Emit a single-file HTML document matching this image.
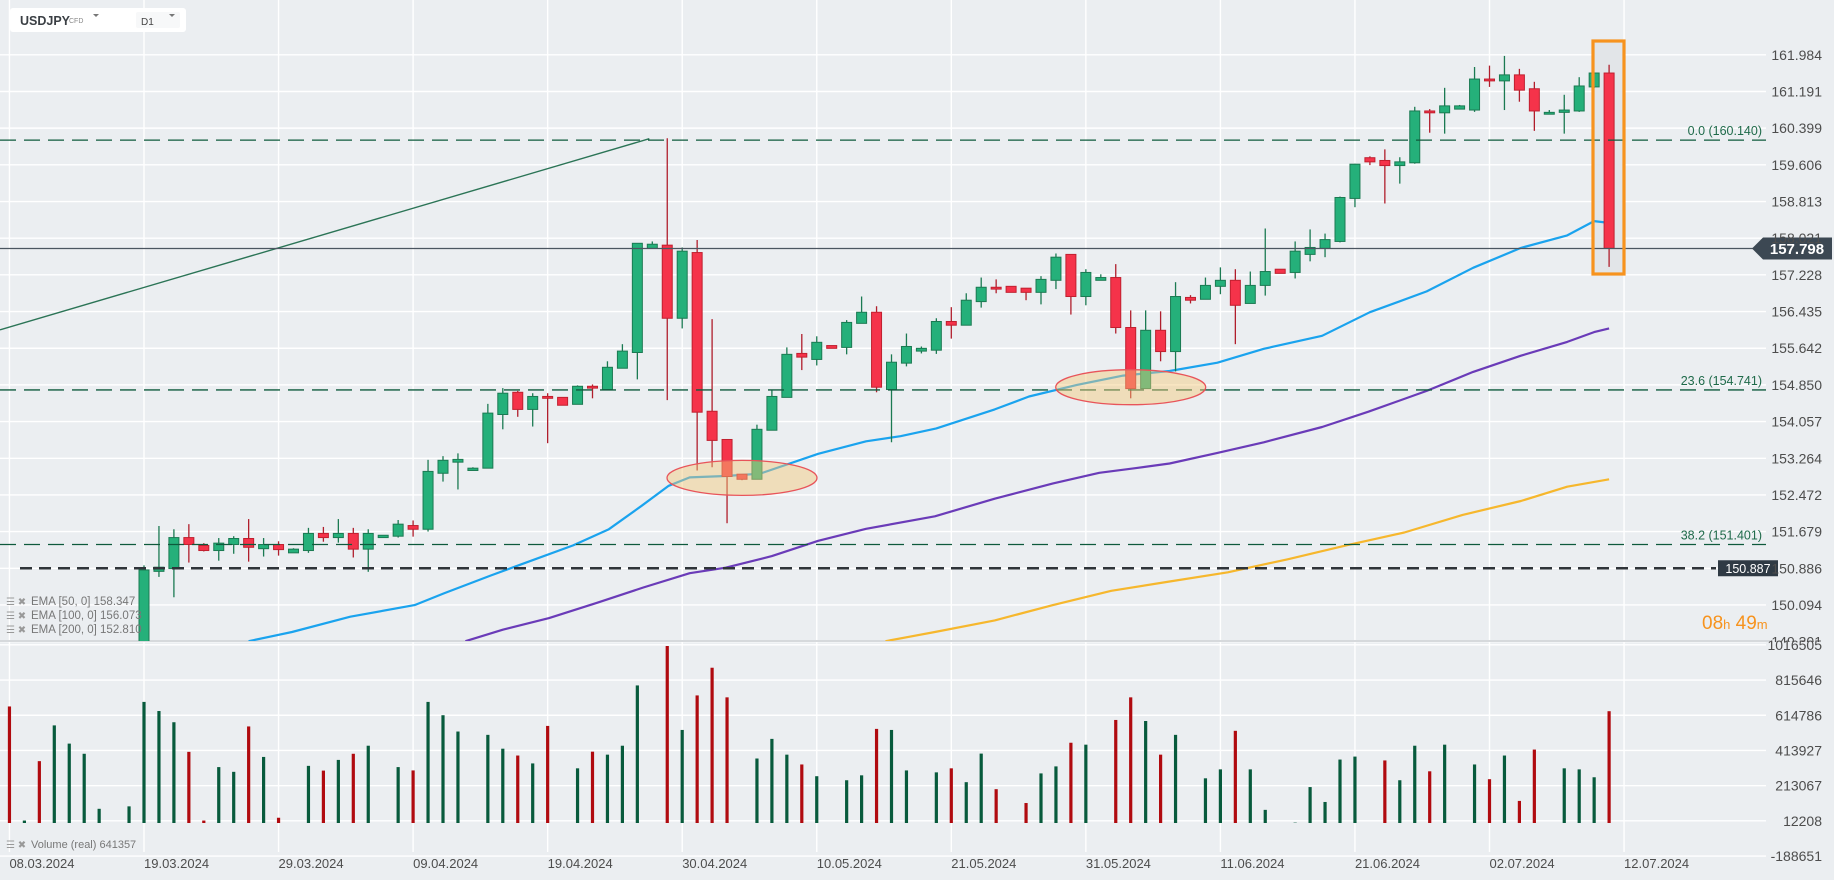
<!DOCTYPE html>
<html><head><meta charset="utf-8">
<style>
html,body{margin:0;padding:0;background:#ebeef1;}
svg{display:block;font-family:"Liberation Sans",sans-serif;}
</style></head>
<body>
<svg id="chart" width="1834" height="880" viewBox="0 0 1834 880" xmlns="http://www.w3.org/2000/svg">
<rect x="0" y="0" width="1834" height="880" fill="#ebeef1"/>
<defs><clipPath id="pclip"><rect x="0" y="0" width="1770" height="641"/></clipPath>
<clipPath id="lclip"><rect x="0" y="0" width="1834" height="642"/></clipPath></defs>
<g id="grid"></g>
<g id="vol"></g>
<g id="overlays" clip-path="url(#pclip)"></g>
<g id="candles" clip-path="url(#pclip)"></g>
<g id="annot"></g>
<g id="axes"></g>
<g id="paxes" clip-path="url(#lclip)"></g>
<!-- header -->
<g>
<rect x="10" y="8" width="176" height="24" rx="3" fill="#ffffff"/>
<text x="20" y="25" font-size="12.5" font-weight="bold" fill="#3a3f44">USDJPY</text>
<text x="69" y="23" font-size="7" fill="#888">CFD</text>
<path d="M93 14 L99 14 L96 17 Z" fill="#777"/>
</g>
<g>
<rect x="136" y="12" width="44" height="16" rx="2" fill="#f7f8f9"/>
<text x="141" y="25" font-size="10" fill="#444">D1</text>
<path d="M169 14 L175 14 L172 17 Z" fill="#777"/>
</g>
<!-- legend -->
<g font-size="11.5" fill="#777">
<text x="6" y="605" fill="#999" font-size="10">☰ ✖</text><text x="31" y="605">EMA  [50,  0] 158.347</text>
<text x="6" y="619" fill="#999" font-size="10">☰ ✖</text><text x="31" y="619">EMA  [100,  0] 156.073</text>
<text x="6" y="633" fill="#999" font-size="10">☰ ✖</text><text x="31" y="633">EMA  [200,  0] 152.810</text>
</g>
<g font-size="11" fill="#777">
<text x="6" y="848" fill="#999" font-size="10">☰ ✖</text><text x="31" y="848">Volume  (real)  641357</text>
</g>
<g fill="#f7931e">
<text x="1702" y="629" font-size="19">08<tspan font-size="13">h</tspan> 49<tspan font-size="13">m</tspan></text>
</g>
</svg>
<script>
const priceTicks=[161.984,161.191,160.399,159.606,158.813,158.021,157.228,156.435,155.642,154.850,154.057,153.264,152.472,151.679,150.886,150.094,149.301];
const volTicks=[1016505,815646,614786,413927,213067,12208,-188651];
const dateLabels=["08.03.2024","19.03.2024","29.03.2024","09.04.2024","19.04.2024","30.04.2024","10.05.2024","21.05.2024","31.05.2024","11.06.2024","21.06.2024","02.07.2024","12.07.2024"];
const dateIdx=[-9,0,9,18,27,36,45,54,63,72,81,90,99];
const opens=[149.10,150.82,150.88,151.55,151.38,151.27,151.40,151.53,151.31,151.40,151.22,151.27,151.64,151.55,151.64,151.30,151.55,151.58,151.81,151.73,152.94,153.18,153.00,153.05,154.21,154.69,154.32,154.60,154.58,154.43,154.82,154.75,155.21,155.55,157.80,157.87,156.29,157.71,154.28,153.67,152.92,152.81,153.87,154.58,155.53,155.40,155.70,155.66,156.18,156.42,154.75,155.32,155.58,155.60,156.22,156.14,156.65,156.96,156.98,156.94,156.85,157.11,157.67,156.76,157.11,157.17,156.09,154.77,156.03,155.57,156.74,156.70,156.98,157.11,156.61,157.00,157.35,157.28,157.67,157.80,157.95,158.88,159.76,159.70,159.59,159.65,160.77,160.73,160.81,160.79,161.46,161.42,161.55,161.25,160.70,160.74,160.77,161.29,161.59];
const highs=[150.95,151.80,151.73,151.84,151.43,151.54,151.58,151.95,151.54,151.47,151.32,151.76,151.78,151.95,151.76,151.73,151.60,151.93,151.92,153.23,153.31,153.37,153.07,154.44,154.78,154.72,154.67,154.67,154.58,154.84,154.86,155.36,155.73,157.91,157.95,160.18,157.82,157.98,156.27,153.67,152.92,153.99,154.75,155.66,155.95,155.90,155.70,156.25,156.76,156.55,155.51,155.96,155.68,156.29,156.53,156.83,157.17,157.13,156.98,156.94,157.20,157.69,157.67,157.35,157.24,157.46,156.46,156.46,156.44,157.07,156.79,157.17,157.39,157.35,157.30,158.23,157.35,157.95,158.21,158.12,158.92,159.63,159.79,159.94,159.77,160.86,160.81,161.27,160.90,161.72,161.75,161.96,161.68,161.40,160.79,161.12,161.50,161.59,161.77];
const lows=[149.05,150.70,150.26,151.01,151.25,151.05,151.20,151.03,151.14,151.16,151.22,151.22,151.46,151.44,151.12,150.81,151.55,151.55,151.57,151.68,152.76,152.59,153.00,153.05,153.89,154.16,153.95,153.59,154.41,154.43,154.56,154.73,155.21,154.97,157.80,154.52,156.07,153.00,153.07,151.86,152.79,152.81,153.87,154.58,155.17,155.27,155.64,155.51,156.18,154.69,153.61,155.25,155.53,155.52,155.85,156.14,156.52,156.83,156.85,156.68,156.59,156.92,156.37,156.57,157.11,155.96,154.56,154.77,155.36,155.14,156.61,156.70,156.81,155.73,156.61,156.78,157.26,157.15,157.52,157.61,157.93,158.69,159.60,158.77,159.20,159.63,160.30,160.28,160.81,160.75,161.29,160.79,160.97,160.34,160.70,160.28,160.75,161.27,157.40];
const closes=[150.85,150.91,151.55,151.40,151.27,151.43,151.53,151.34,151.40,151.29,151.30,151.64,151.55,151.64,151.30,151.64,151.60,151.84,151.73,152.98,153.22,153.24,153.05,154.24,154.67,154.32,154.60,154.56,154.41,154.82,154.78,155.23,155.58,157.91,157.89,156.29,157.74,154.26,153.65,152.87,152.81,153.89,154.60,155.51,155.45,155.77,155.64,156.20,156.42,154.80,155.34,155.68,155.64,156.22,156.14,156.68,156.96,156.92,156.85,156.85,157.13,157.61,156.76,157.28,157.17,156.09,154.77,156.03,155.57,156.76,156.68,157.00,157.11,156.57,157.00,157.30,157.26,157.74,157.82,157.99,158.90,159.62,159.67,159.59,159.67,160.77,160.73,160.88,160.88,161.46,161.42,161.55,161.22,160.77,160.74,160.79,161.31,161.59,157.80];
const volStart=-9;
const volumesK=[665,14,353,557,453,395,81,0,95,691,639,575,406,14,319,292,551,377,30,0,326,299,360,395,441,0,319,300,691,615,522,0,503,424,385,340,554,0,312,407,390,441,785,0,1010,531,728,886,717,0,368,480,390,334,267,0,244,272,537,531,300,0,289,312,233,396,193,0,114,283,323,458,447,0,588,717,582,390,503,0,255,306,526,306,75,0,2,205,120,362,379,0,357,244,441,295,447,0,334,250,385,126,419,0,312,306,261,638];
const preVolUp=[false,true,false,true,true,true,true,false,true];
const ema50Idx=[7,9.9,13.8,18.1,20.1,23.2,25.9,28.7,31.1,33.3,35.1,36.5,38.9,41.2,45.1,48.3,50.6,53,56.9,59.2,62.4,65.5,68.6,71.8,74.9,78.8,82,85.8,88.9,92.1,95.2,97,98];
const ema50Val=[149.31,149.51,149.84,150.09,150.35,150.73,151.05,151.38,151.73,152.24,152.67,152.85,152.88,152.93,153.36,153.63,153.74,153.91,154.32,154.60,154.85,155.05,155.15,155.33,155.63,155.91,156.42,156.87,157.38,157.81,158.08,158.39,158.35];
const ema100Idx=[21.5,24,27.1,30.3,33.4,36.5,38.9,42,45.1,48.3,52.9,56.9,60.8,63.9,66.3,68.6,71.8,74.9,78.8,81.9,85.8,88.9,92.1,95.2,97,98];
const ema100Val=[149.31,149.56,149.81,150.14,150.47,150.78,150.90,151.15,151.48,151.74,152.01,152.39,152.72,152.95,153.05,153.15,153.38,153.61,153.94,154.27,154.72,155.13,155.48,155.78,155.99,156.07];
const ema200Idx=[49.6,52.9,56.9,60.8,64.7,68.6,72.5,76.5,80.4,84.3,88.2,92.1,95.2,98];
const ema200Val=[149.31,149.51,149.76,150.09,150.40,150.60,150.80,151.08,151.38,151.66,152.04,152.34,152.65,152.81];
const trendIdx=[-9.63,33.8];
const trendVal=[156.04,160.17];
const fibVals=[160.140,154.741,151.401];
const fibLabels=["0.0 (160.140)","23.6 (154.741)","38.2 (151.401)"];
const supportLevel=150.887;
const lastPrice=157.798;
const zoneIdx=[40.0,66.0];
const zoneVal=[152.84,154.80];

const NS="http://www.w3.org/2000/svg";
const X=i=>144+i*14.95;
const PY=p=>568.3-(p-150.886)*46.27;
const VY=v=>823-v/200860*35.2;
function mk(tag,attrs,parent){const e=document.createElementNS(NS,tag);for(const k in attrs)e.setAttribute(k,attrs[k]);parent.appendChild(e);return e;}
const grid=document.getElementById('grid'),vol=document.getElementById('vol'),ov=document.getElementById('overlays'),cg=document.getElementById('candles'),an=document.getElementById('annot'),ax=document.getElementById('axes'),pax=document.getElementById('paxes');

priceTicks.forEach(p=>{
  const l=mk('line',{x1:0,x2:1766,y1:PY(p),y2:PY(p),stroke:'#ffffff','stroke-width':1.4},grid);
  
  
  const t=mk('text',{x:1822,y:PY(p)+5,'text-anchor':'end','font-size':14,fill:'#4d4d4d'},pax);
  t.textContent=p.toFixed(3);
  
  
});
volTicks.forEach(v=>{
  const l=mk('line',{x1:0,x2:1766,y1:VY(v),y2:VY(v),stroke:'#ffffff','stroke-width':1.4},grid);
  
  
  const t=mk('text',{x:1822,y:VY(v)+5,'text-anchor':'end','font-size':14,fill:'#4d4d4d'},ax);
  t.textContent=String(v);
  
  
});
dateIdx.forEach((d,k)=>{
  const l=mk('line',{x1:X(d),x2:X(d),y1:0,y2:852,stroke:'#ffffff','stroke-width':1.4},grid);
  
  
  const t=mk('text',{x:X(d),y:868,'font-size':13,fill:'#4d4d4d'},ax);
  t.textContent=dateLabels[k];
  
  
});
const sep=mk('line',{x1:0,x2:1770,y1:641,y2:641,stroke:'#d6d9dc','stroke-width':2},grid);



volumesK.forEach((vk,k)=>{
  if(vk<=0)return;
  const i=k+volStart;
  const up=i<0?preVolUp[k]:closes[i]>=opens[i];
  const v=vk*1000;
  const r=mk('rect',{x:X(i)-1.6,y:VY(v),width:3.2,height:VY(0)-VY(v),fill:up?'#075a3c':'#b00a0f'},vol);
  
  
});

fibVals.forEach((f,k)=>{
  const l=mk('line',{x1:0,x2:1766,y1:PY(f),y2:PY(f),stroke:'#0e5a3c','stroke-width':1.3,'stroke-dasharray':'16 8'},an);
  
  
  const t=mk('text',{x:1762,y:PY(f)-5,'text-anchor':'end','font-size':12.5,fill:'#1f6a4a'},an);
  t.textContent=fibLabels[k];
  
  
});
const sl=mk('line',{x1:20,x2:1716,y1:PY(supportLevel),y2:PY(supportLevel),stroke:'#2f3439','stroke-width':2.6,'stroke-dasharray':'12 7'},an);


const slb=mk('rect',{x:1718,y:PY(supportLevel)-8,width:60,height:16,fill:'#2f3a44'},an);


const slt=mk('text',{x:1748,y:PY(supportLevel)+4.5,'text-anchor':'middle','font-size':12.5,fill:'#fff'},an);
slt.textContent=supportLevel.toFixed(3);
const lp=mk('line',{x1:0,x2:1760,y1:PY(lastPrice),y2:PY(lastPrice),stroke:'#4a5560','stroke-width':1.3},an);


const lpb=mk('path',{d:`M1752 ${PY(lastPrice)} L1763 ${PY(lastPrice)-11} L1832 ${PY(lastPrice)-11} L1832 ${PY(lastPrice)+11} L1763 ${PY(lastPrice)+11} Z`,fill:'#3c4853'},an);


const lpt=mk('text',{x:1797,y:PY(lastPrice)+5.5,'text-anchor':'middle','font-size':15,'font-weight':'bold',fill:'#fff'},an);
lpt.textContent=lastPrice.toFixed(3);

const hb=mk('rect',{x:1593,y:41,width:31,height:233,fill:'#e2e5e8'},ov);



const tl=mk('line',{x1:X(trendIdx[0]),y1:PY(trendVal[0]),x2:X(trendIdx[1]),y2:PY(trendVal[1]),stroke:'#2b7456','stroke-width':1.4},ov);



function emaLine(idx,val,color,name){
  const pts=idx.map((d,k)=>X(d).toFixed(1)+','+PY(val[k]).toFixed(1)).join(' ');
  const pl=mk('polyline',{points:pts,fill:'none',stroke:color,'stroke-width':2.2,'stroke-linejoin':'round'},ov);
  
  
}
emaLine(ema200Idx,ema200Val,'#f6b72d','ema-200-line');
emaLine(ema100Idx,ema100Val,'#6a3bb8','ema-100-line');
emaLine(ema50Idx,ema50Val,'#1aa3ee','ema-50-line');

for(let i=0;i<opens.length;i++){
  const o=opens[i],c=closes[i],h=highs[i],lo=lows[i];
  const up=c>=o;
  const x=X(i);
  const g=mk('g',{},cg);
  
  
  mk('line',{x1:x,x2:x,y1:PY(h),y2:PY(lo),stroke:up?'#1b7a52':'#b01e2c','stroke-width':1.3},g);
  const top=PY(Math.max(o,c)),bot=PY(Math.min(o,c));
  mk('rect',{x:x-5,y:top,width:10,height:Math.max(1.5,bot-top),fill:up?'#25b07a':'#f5334a',stroke:up?'#1b7a52':'#c0202f','stroke-width':1},g);
}

zoneIdx.forEach((d,k)=>{
  const e=mk('ellipse',{cx:X(d),cy:PY(zoneVal[k]),rx:75,ry:17.5,fill:'rgba(244,200,120,0.45)',stroke:'#e8545a','stroke-width':1.3},an);
  
  
});
const ob=mk('rect',{x:1593,y:41,width:31,height:233,fill:'none',stroke:'#f7931e','stroke-width':3.2},an);


</script>
</body></html>
